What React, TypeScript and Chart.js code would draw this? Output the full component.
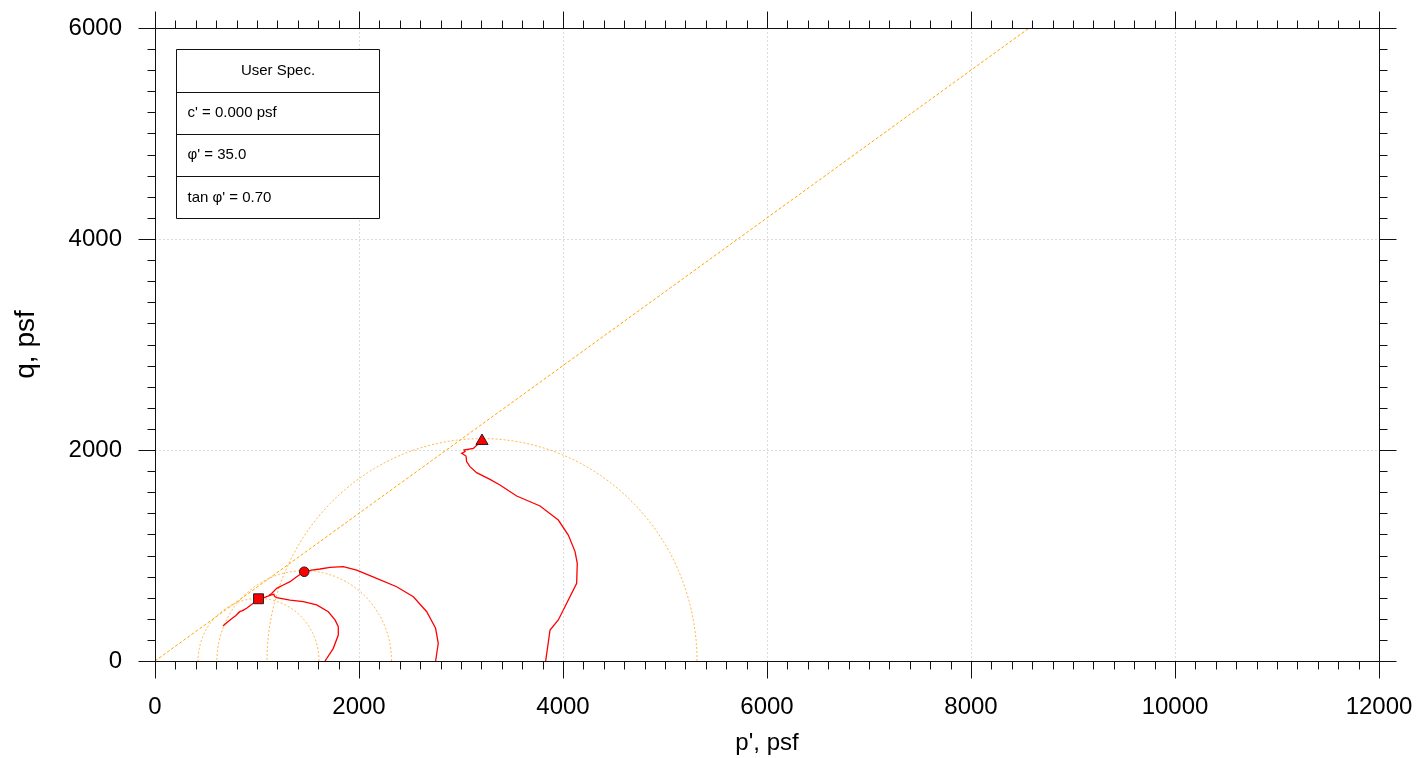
import { useEffect, useRef } from "react";
import { Chart, registerables } from "chart.js";

Chart.register(...registerables);

const FONT = "'Liberation Sans', Arial, Helvetica, sans-serif";

// axis ranges and tick labels
const xLimits = [0, 12000];
const yLimits = [0, 6000];
const majorStep = 2000;
const minorStep = 200;

// failure envelope (tan phi' = 0.70)
const envelopeP = [0, 8571];
const envelopeQ = [0, 6000];

// Mohr circles: centre p', radius q
const circleCentres = [1015, 1463, 3206];
const circleRadii = [593, 856, 2108];

// stress path 1 (square marker test)
const path1P = [1667, 1748, 1797, 1797, 1765, 1699, 1585, 1454, 1324, 1193, 1172, 1165, 1150, 1120, 1070, 1020, 960, 905, 860, 835, 812, 825, 790, 745, 700, 667];
const path1Q = [0, 120, 246, 325, 389, 467, 531, 562, 578, 600, 612, 632, 628, 620, 600, 588, 545, 505, 478, 470, 455, 462, 430, 395, 360, 332];

// stress path 2 (circle marker test)
const path2P = [2751, 2760, 2777, 2751, 2664, 2533, 2369, 2173, 1977, 1846, 1716, 1618, 1536, 1463, 1389, 1324, 1258, 1193, 1144, 1120];
const path2Q = [0, 57, 168, 310, 467, 609, 704, 783, 862, 894, 888, 872, 862, 846, 799, 752, 720, 689, 640, 625];

// stress path 3 (triangle marker test)
const path3P = [3830, 3873, 3954, 4134, 4140, 4118, 4052, 3954, 3935, 3775, 3546, 3382, 3284, 3153, 3088, 3055, 3049, 3007, 3040, 3030, 3121, 3160, 3206];
const path3Q = [0, 294, 389, 736, 926, 1037, 1194, 1336, 1350, 1469, 1564, 1668, 1722, 1785, 1842, 1890, 1943, 1968, 1985, 2000, 2015, 2050, 2085];

// failure markers
const markerP = [1015, 1463, 3206];
const markerQ = [590, 846, 2085];
const markerShapes = ["rect", "circle", "triangle"];
const markerSizes = [7, 4.8, 7];

// table text
const tableRows = ["User Spec.", "c' = 0.000 psf", "φ' = 35.0", "tan φ' = 0.70"];

function toPoints(ps: number[], qs: number[]) {
  return ps.map((p, i) => ({ x: p, y: qs[i] }));
}

function circlePoints(c: number, r: number) {
  const pts: { x: number; y: number }[] = [];
  const n = 240;
  for (let i = 0; i <= n; i++) {
    const a = (Math.PI * i) / n;
    pts.push({ x: c + r * Math.cos(a), y: r * Math.sin(a) });
  }
  return pts;
}

const framePlugin = {
  id: "frame",
  afterDraw(chart: any) {
    const ctx = chart.ctx;
    const { left, right, top, bottom } = chart.chartArea;
    const xs = chart.scales.x;
    const ys = chart.scales.y;
    const L = Math.round(left) + 0.5;
    const R = Math.round(right) + 0.5;
    const T = Math.round(top) + 0.5;
    const B = Math.round(bottom) + 0.5;
    ctx.save();
    ctx.strokeStyle = "#111";
    ctx.lineWidth = 1;
    ctx.beginPath();
    ctx.rect(L, T, R - L, B - T);
    for (let v = xLimits[0]; v <= xLimits[1]; v += minorStep) {
      const px = Math.round(xs.getPixelForValue(v)) + 0.5;
      const len = v % majorStep === 0 ? 17 : 8;
      ctx.moveTo(px, B);
      ctx.lineTo(px, B + len);
      ctx.moveTo(px, T);
      ctx.lineTo(px, T - len);
    }
    for (let v = yLimits[0]; v <= yLimits[1]; v += minorStep) {
      const py = Math.round(ys.getPixelForValue(v)) + 0.5;
      const len = v % majorStep === 0 ? 17 : 8;
      ctx.moveTo(L, py);
      ctx.lineTo(L - len, py);
      ctx.moveTo(R, py);
      ctx.lineTo(R + len, py);
    }
    ctx.stroke();

    // table box
    const bx = 176.5, by = 49.5, bw = 203, rh = 42.25;
    ctx.fillStyle = "#fff";
    ctx.fillRect(bx, by, bw, rh * 4);
    ctx.beginPath();
    ctx.rect(bx, by, bw, rh * 4);
    for (let i = 1; i < 4; i++) {
      const yy = Math.round(by + rh * i) + 0.5;
      ctx.moveTo(bx, yy);
      ctx.lineTo(bx + bw, yy);
    }
    ctx.stroke();
    ctx.fillStyle = "#000";
    ctx.font = `15px ${FONT}`;
    ctx.textBaseline = "middle";
    tableRows.forEach((t, i) => {
      const cy = by + rh * i + rh / 2;
      if (i === 0) {
        ctx.textAlign = "center";
        ctx.fillText(t, bx + bw / 2, cy);
      } else {
        ctx.textAlign = "left";
        ctx.fillText(t, bx + 11, cy);
      }
    });
    ctx.restore();
  },
};

export default function App() {
  const ref = useRef<HTMLCanvasElement>(null);
  useEffect(() => {
    if (!ref.current) return;
    const datasets: any[] = [];
    markerP.forEach((p, i) => {
      datasets.push({
        type: "scatter",
        data: [{ x: p, y: markerQ[i] }],
        pointStyle: markerShapes[i],
        pointRadius: markerSizes[i],
        backgroundColor: "#ff0000",
        borderColor: "#222",
        borderWidth: 1,
        showLine: false,
      });
    });
    [
      [path1P, path1Q],
      [path2P, path2Q],
      [path3P, path3Q],
    ].forEach(([ps, qs]) => {
      datasets.push({
        type: "line",
        data: toPoints(ps, qs),
        borderColor: "#ff0000",
        borderWidth: 1.3,
        pointRadius: 0,
        fill: false,
        tension: 0,
      });
    });
    circleCentres.forEach((c, i) => {
      datasets.push({
        type: "line",
        data: circlePoints(c, circleRadii[i]),
        borderColor: "rgba(255,170,40,0.85)",
        borderWidth: 1,
        borderDash: [2, 2],
        pointRadius: 0,
        fill: false,
        tension: 0,
      });
    });
    datasets.push({
      type: "line",
      data: toPoints(envelopeP, envelopeQ),
      borderColor: "#ffa500",
      borderWidth: 1,
      borderDash: [3, 2],
      pointRadius: 0,
      fill: false,
    });

    const chart = new Chart(ref.current, {
      type: "scatter",
      data: { datasets },
      options: {
        animation: false,
        responsive: false,
        events: [],
        layout: { padding: { left: 0, right: 37, top: 28, bottom: 0 } },
        plugins: { legend: { display: false }, tooltip: { enabled: false } },
        scales: {
          x: {
            type: "linear",
            min: xLimits[0],
            max: xLimits[1],
            afterFit: (s: any) => {
              s.height = 97;
              s.paddingLeft = 0;
              s.paddingRight = 0;
            },
            ticks: {
              stepSize: majorStep,
              padding: 32,
              color: "#000",
              font: { family: FONT, size: 24 },
              callback: (v: any) => String(v),
              maxRotation: 0,
            },
            grid: { color: "#dcdcdc", drawTicks: false, lineWidth: 1 },
            border: { display: false, dash: [2, 2] },
            title: {
              display: true,
              text: "p', psf",
              color: "#000",
              font: { family: FONT, size: 24 },
              padding: { top: 0, bottom: 0 },
            },
          },
          y: {
            type: "linear",
            min: yLimits[0],
            max: yLimits[1],
            afterFit: (s: any) => {
              s.width = 155;
              s.paddingTop = 0;
              s.paddingBottom = 0;
            },
            ticks: {
              stepSize: majorStep,
              padding: 33,
              color: "#000",
              font: { family: FONT, size: 24 },
              callback: (v: any) => String(v),
            },
            grid: { color: "#dcdcdc", drawTicks: false, lineWidth: 1 },
            border: { display: false, dash: [2, 2] },
            title: {
              display: true,
              text: "q, psf",
              color: "#000",
              font: { family: FONT, size: 28 },
              padding: { top: 9, bottom: 0 },
            },
          },
        },
      },
      plugins: [framePlugin],
    } as any);
    return () => chart.destroy();
  }, []);

  return (
    <div style={{ position: "fixed", left: 0, top: 0, width: 1416, height: 758, background: "#fff" }}>
      <canvas ref={ref} width={1416} height={758} style={{ display: "block" }} />
    </div>
  );
}
